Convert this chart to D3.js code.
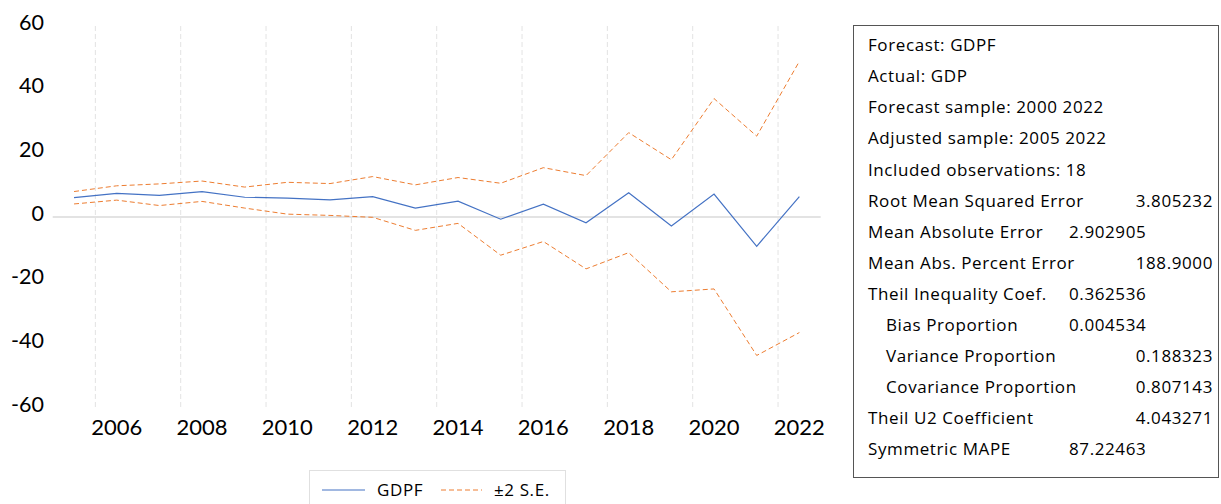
<!DOCTYPE html>
<html>
<head>
<meta charset="utf-8">
<script src="https://cdn.jsdelivr.net/npm/d3@7"></script>
<style>
  body { margin: 0; background: #fff; }
  svg { font-family: Lato, "Open Sans", sans-serif; }
  .boxtext { font-family: "Open Sans", Lato, sans-serif; letter-spacing: 0.6px; }
</style>
</head>
<body>
<svg id="chart" width="1221" height="504"></svg>
<script>
// forecast years and series
const years = [2005, 2006, 2007, 2008, 2009, 2010, 2011, 2012, 2013, 2014, 2015, 2016, 2017, 2018, 2019, 2020, 2021, 2022];
const gdpf  = [6.1, 7.4, 6.8, 8.0, 6.2, 5.9, 5.4, 6.4, 2.8, 5.0, -0.7, 4.0, -1.8, 7.6, -2.8, 7.2, -9.2, 6.4];
const upper = [8.0, 9.8, 10.4, 11.3, 9.4, 10.9, 10.5, 12.7, 10.1, 12.4, 10.6, 15.5, 13.0, 26.5, 18.0, 37.2, 25.4, 48.9];
const lower = [4.1, 5.3, 3.6, 4.9, 2.8, 0.9, 0.5, -0.1, -4.2, -2.0, -12.0, -7.7, -16.3, -11.2, -23.5, -22.6, -43.5, -36.3];
const yTicks = [-60, -40, -20, 0, 20, 40, 60];
const xLabelYears = [2006, 2008, 2010, 2012, 2014, 2016, 2018, 2020, 2022];

// forecast evaluation table
const statLabels = ['Forecast: GDPF', 'Actual: GDP', 'Forecast sample: 2000 2022', 'Adjusted sample: 2005 2022',
  'Included observations: 18', 'Root Mean Squared Error', 'Mean Absolute Error', 'Mean Abs. Percent Error',
  'Theil Inequality Coef.', 'Bias Proportion', 'Variance Proportion', 'Covariance Proportion',
  'Theil U2 Coefficient', 'Symmetric MAPE'];
const statValues = ['', '', '', '', '', '3.805232', '2.902905', '188.9000', '0.362536', '0.004534', '0.188323', '0.807143', '4.043271', '87.22463'];
const statIndent = [0, 0, 0, 0, 0, 0, 0, 0, 0, 1, 1, 1, 0, 0];
const statAlign  = ['', '', '', '', '', 'r', 'l', 'r', 'l', 'l', 'r', 'r', 'r', 'l'];

const svg = d3.select('#chart');
const blue = '#4472C4', orange = '#ED7D31';

const plot = { left: 52.7, right: 820.7, top: 26, bottom: 408 };

const x = d3.scaleBand().domain(years).range([plot.left, plot.right]);
const y = d3.scaleLinear().domain([-60, 60]).range([plot.bottom, plot.top]);
const cx = d => x(d) + x.bandwidth() / 2;

// vertical gridlines at category boundaries before each labelled year
svg.append('g').selectAll('line')
  .data(xLabelYears)
  .enter().append('line')
  .attr('x1', d => x(d)).attr('x2', d => x(d))
  .attr('y1', plot.top).attr('y2', plot.bottom)
  .attr('stroke', '#e3e3e3')
  .attr('stroke-width', 1)
  .attr('stroke-dasharray', '5,3');

// zero line
svg.append('line')
  .attr('x1', plot.left).attr('x2', plot.right)
  .attr('y1', y(0)).attr('y2', y(0))
  .attr('stroke', '#c8c8c8').attr('stroke-width', 1.2);

// y labels
svg.append('g').selectAll('text')
  .data(yTicks)
  .enter().append('text')
  .attr('x', 44)
  .attr('y', d => y(d) - 4)
  .attr('dy', '0.36em')
  .attr('text-anchor', 'end')
  .attr('font-size', 21.5)
  .attr('fill', '#000')
  .text(d => d);

// x labels
svg.append('g').selectAll('text')
  .data(xLabelYears)
  .enter().append('text')
  .attr('x', d => cx(d))
  .attr('y', 427)
  .attr('dy', '0.36em')
  .attr('text-anchor', 'middle')
  .attr('font-size', 22)
  .attr('fill', '#000')
  .text(d => d);

const line = d3.line().x((d, i) => cx(years[i])).y(d => y(d));

svg.append('path').datum(upper)
  .attr('d', line).attr('fill', 'none')
  .attr('stroke', orange).attr('stroke-width', 1).attr('stroke-dasharray', '5,3');
svg.append('path').datum(lower)
  .attr('d', line).attr('fill', 'none')
  .attr('stroke', orange).attr('stroke-width', 1).attr('stroke-dasharray', '5,3');
svg.append('path').datum(gdpf)
  .attr('d', line).attr('fill', 'none')
  .attr('stroke', blue).attr('stroke-width', 1.2);

// legend
const lg = svg.append('g');
lg.append('rect')
  .attr('x', 309.5).attr('y', 470.5).attr('width', 256).attr('height', 40)
  .attr('fill', '#fff').attr('stroke', '#e0e0e0');
lg.append('line').attr('x1', 322).attr('x2', 365).attr('y1', 490).attr('y2', 490)
  .attr('stroke', blue).attr('stroke-width', 1.2);
lg.append('text').attr('class', 'boxtext').attr('x', 377).attr('y', 490).attr('dy', '0.36em')
  .attr('font-size', 17).attr('letter-spacing', 1).text('GDPF');
lg.append('line').attr('x1', 441).attr('x2', 482).attr('y1', 490).attr('y2', 490)
  .attr('stroke', orange).attr('stroke-width', 1).attr('stroke-dasharray', '5,3');
lg.append('text').attr('class', 'boxtext').attr('x', 494).attr('y', 490).attr('dy', '0.36em')
  .attr('font-size', 17).attr('letter-spacing', 1).text('\u00B12 S.E.');

// stats box
const box = svg.append('g');
box.append('rect')
  .attr('x', 853.5).attr('y', 25.5).attr('width', 365).attr('height', 452)
  .attr('fill', '#fff').attr('stroke', '#555').attr('stroke-width', 1);

const rowY = i => 45 + i * 31.1;

box.selectAll('text.lbl')
  .data(statLabels)
  .enter().append('text')
  .attr('class', 'lbl boxtext')
  .attr('x', (d, i) => statIndent[i] ? 886 : 868)
  .attr('y', (d, i) => rowY(i))
  .attr('dy', '0.36em')
  .attr('font-size', 17)
  .text(d => d);

box.selectAll('text.val')
  .data(statValues)
  .enter().append('text')
  .attr('class', 'val boxtext')
  .attr('x', (d, i) => statAlign[i] === 'r' ? 1213 : 1069)
  .attr('y', (d, i) => rowY(i))
  .attr('dy', '0.36em')
  .attr('text-anchor', (d, i) => statAlign[i] === 'r' ? 'end' : 'start')
  .attr('font-size', 17)
  .text(d => d);
</script>
</body>
</html>
